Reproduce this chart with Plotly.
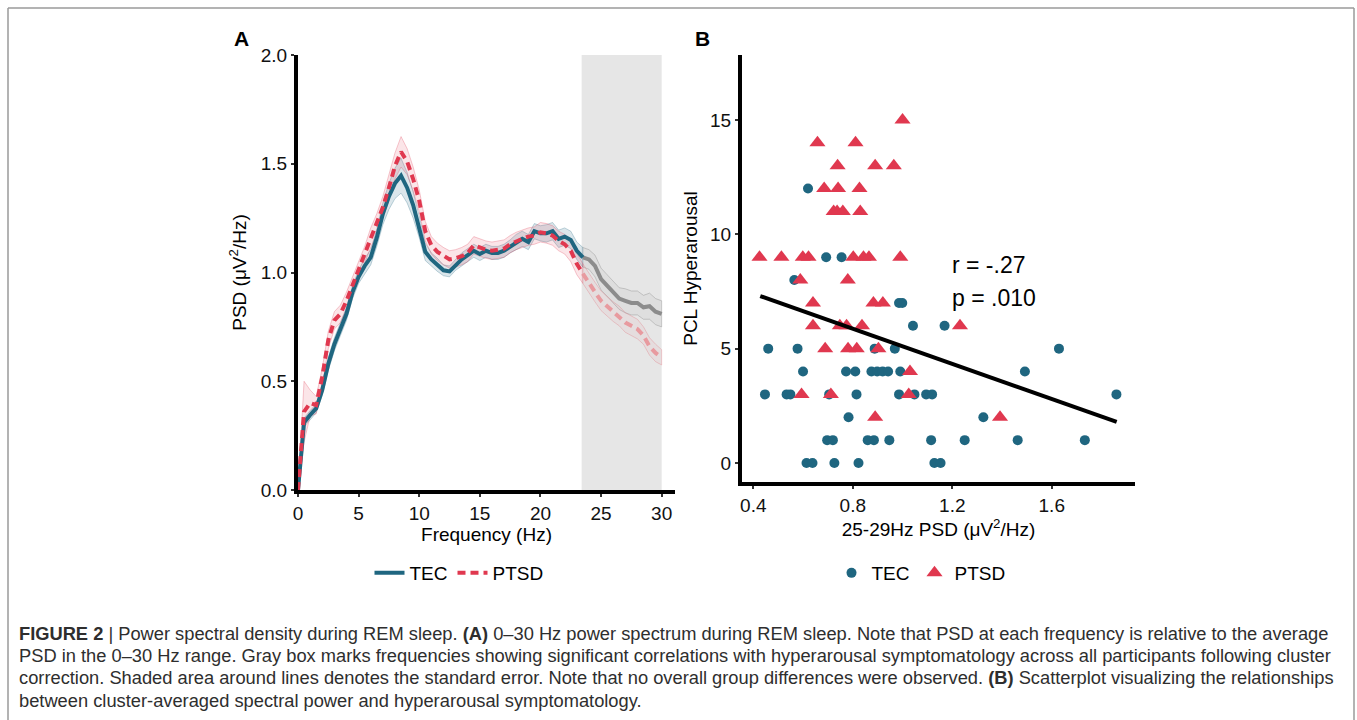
import numpy as np
import plotly.graph_objects as go

W, H = 1357, 720
def px(x): return x / W
def py(y): return 1 - y / H

# ---------------- Panel A data ----------------
freq = [0.0, 0.5, 1.0, 1.5, 2.0, 2.5, 3.0, 3.5, 4.0, 4.5, 5.0, 5.5, 6.0, 6.5, 7.0, 7.5,
        8.0, 8.5, 9.0, 9.5, 10.0, 10.5, 11.0, 11.5, 12.0, 12.5, 13.0, 13.5, 14.0, 14.5,
        15.0, 15.5, 16.0, 16.5, 17.0, 17.5, 18.0, 18.5, 19.0, 19.5, 20.0, 20.5, 21.0,
        21.5, 22.0, 22.5, 23.0, 23.5, 24.0, 24.5, 25.0, 25.5, 26.0, 26.5, 27.0, 27.5,
        28.0, 28.5, 29.0, 29.5, 30.0]
tec_psd = [0.00, 0.31, 0.345, 0.375, 0.46, 0.58, 0.67, 0.74, 0.81, 0.91, 0.98, 1.03, 1.07,
           1.16, 1.27, 1.35, 1.41, 1.445, 1.39, 1.31, 1.21, 1.095, 1.06, 1.035, 1.01, 1.005,
           1.035, 1.06, 1.08, 1.10, 1.085, 1.10, 1.09, 1.09, 1.10, 1.12, 1.14, 1.155, 1.14,
           1.19, 1.18, 1.18, 1.19, 1.155, 1.165, 1.15, 1.10, 1.07, 1.06, 1.03, 0.97, 0.94,
           0.91, 0.88, 0.87, 0.86, 0.86, 0.84, 0.845, 0.82, 0.81]
tec_se = [0.00, 0.02, 0.02, 0.02, 0.025, 0.03, 0.03, 0.03, 0.03, 0.03, 0.03, 0.035, 0.035,
          0.04, 0.05, 0.06, 0.07, 0.08, 0.07, 0.06, 0.05, 0.04, 0.03, 0.03, 0.025, 0.025,
          0.025, 0.03, 0.03, 0.03, 0.03, 0.03, 0.03, 0.03, 0.03, 0.03, 0.035, 0.035, 0.035,
          0.035, 0.035, 0.04, 0.04, 0.04, 0.04, 0.04, 0.04, 0.045, 0.045, 0.05, 0.05, 0.05,
          0.05, 0.05, 0.055, 0.055, 0.055, 0.055, 0.06, 0.06, 0.06]
ptsd_psd = [0.00, 0.36, 0.40, 0.39, 0.52, 0.69, 0.78, 0.81, 0.87, 0.94, 1.01, 1.08, 1.16,
            1.22, 1.30, 1.39, 1.49, 1.555, 1.51, 1.43, 1.33, 1.19, 1.125, 1.095, 1.075, 1.06,
            1.065, 1.075, 1.09, 1.125, 1.115, 1.105, 1.10, 1.105, 1.11, 1.13, 1.145, 1.155,
            1.165, 1.17, 1.185, 1.18, 1.17, 1.145, 1.13, 1.10, 1.04, 0.995, 0.95, 0.91, 0.87,
            0.845, 0.82, 0.80, 0.77, 0.755, 0.74, 0.71, 0.66, 0.63, 0.61]
ptsd_se = [0.00, 0.14, 0.06, 0.04, 0.04, 0.04, 0.04, 0.04, 0.04, 0.04, 0.04, 0.04, 0.045,
           0.05, 0.05, 0.06, 0.06, 0.07, 0.06, 0.055, 0.05, 0.045, 0.04, 0.04, 0.04, 0.04,
           0.04, 0.04, 0.04, 0.04, 0.04, 0.04, 0.04, 0.04, 0.04, 0.04, 0.04, 0.04, 0.04, 0.04,
           0.045, 0.045, 0.045, 0.045, 0.045, 0.05, 0.05, 0.045, 0.045, 0.045, 0.045, 0.045,
           0.045, 0.045, 0.045, 0.045, 0.045, 0.04, 0.04, 0.04, 0.035]
sig_cluster = [23.4, 30.0]     # gray box (Hz)
split_freq = 23.5               # start of gray-coloured segment

# ---------------- Panel B data ----------------
tec_x = [0.62, 0.693, 0.755, 0.565, 0.986, 0.999, 1.042, 1.169,
         0.46, 0.578, 0.888, 0.969, 1.629,
         0.60, 0.773, 0.81, 0.875, 0.898, 0.92, 0.942, 0.991, 1.492,
         0.447, 0.534, 0.549, 0.705, 0.815, 0.986, 1.048, 1.095, 1.119, 1.86,
         0.783, 1.325,
         0.697, 0.72, 0.86, 0.885, 0.947, 1.115, 1.25, 1.463, 1.733,
         0.614, 0.638, 0.726, 0.823, 1.128, 1.153]
tec_y = [12, 9, 9, 8, 7, 7, 6, 6,
         5, 5, 5, 5, 5,
         4, 4, 4, 4, 4, 4, 4, 4, 4,
         3, 3, 3, 3, 3, 3, 3, 3, 3, 3,
         2, 2,
         1, 1, 1, 1, 1, 1, 1, 1, 1,
         0, 0, 0, 0, 0, 0]
ptsd_x = [1.0, 0.658, 0.811, 0.739, 0.89, 0.965, 0.685, 0.741, 0.827,
          0.723, 0.737, 0.76, 0.83,
          0.425, 0.513, 0.599, 0.622, 0.802, 0.843, 0.865, 0.991,
          0.589, 0.78, 0.64, 0.883, 0.921,
          0.64, 0.748, 0.775, 0.837, 1.231,
          0.689, 0.781, 0.816, 0.903, 1.03, 0.594, 0.712, 1.025, 0.89, 1.392]
ptsd_y = [15, 14, 14, 13, 13, 13, 12, 12, 12,
          11, 11, 11, 11,
          9, 9, 9, 9, 9, 9, 9, 9,
          8, 8, 7, 7, 7,
          6, 6, 6, 6, 6,
          5, 5, 5, 5, 4, 3, 3, 3, 2, 2]
fit_x = [0.428, 1.861]          # regression line ends as pictured
fit_y = [7.30, 1.80]
stats_text = ["r = -.27", "p = .010"]

TEC_C = "#1f6680"
PTSD_C = "#e0384f"
FONT = "Liberation Sans, Arial, sans-serif"

fig = go.Figure()

def band(x, m, s):
    up = [a + b for a, b in zip(m, s)]
    lo = [a - b for a, b in zip(m, s)]
    return list(x) + list(x)[::-1], up + lo[::-1]

k = freq.index(split_freq)
seg_c = slice(0, k + 1)
seg_g = slice(k, len(freq))

for f, m, s, fc, lc in [
    (freq[seg_c], tec_psd[seg_c], tec_se[seg_c], "rgba(31,102,128,0.16)", "rgba(31,102,128,0.35)"),
    (freq[seg_c], ptsd_psd[seg_c], ptsd_se[seg_c], "rgba(224,56,79,0.13)", "rgba(224,56,79,0.35)"),
    (freq[seg_g], tec_psd[seg_g], tec_se[seg_g], "rgba(130,130,130,0.07)", "rgba(130,130,130,0.45)"),
    (freq[seg_g], ptsd_psd[seg_g], ptsd_se[seg_g], "rgba(224,56,79,0.05)", "rgba(224,110,120,0.40)"),
]:
    bx, by = band(f, m, s)
    fig.add_trace(go.Scatter(x=bx, y=by, fill="toself", fillcolor=fc,
                             line=dict(color=lc, width=0.8), mode="lines",
                             showlegend=False, hoverinfo="skip", xaxis="x", yaxis="y"))

fig.add_trace(go.Scatter(x=freq[seg_g], y=tec_psd[seg_g], mode="lines",
                         line=dict(color="#8c8c8c", width=4), showlegend=False,
                         xaxis="x", yaxis="y"))
fig.add_trace(go.Scatter(x=freq[seg_g], y=ptsd_psd[seg_g], mode="lines",
                         line=dict(color="#e89a9f", width=4, dash="8px,5px"), showlegend=False,
                         xaxis="x", yaxis="y"))
fig.add_trace(go.Scatter(x=freq[seg_c], y=tec_psd[seg_c], mode="lines", name="TEC",
                         line=dict(color=TEC_C, width=4), legend="legend",
                         xaxis="x", yaxis="y"))
fig.add_trace(go.Scatter(x=freq[seg_c], y=ptsd_psd[seg_c], mode="lines", name="PTSD",
                         line=dict(color=PTSD_C, width=4, dash="8px,5px"), legend="legend",
                         xaxis="x", yaxis="y"))

# Panel B
fig.add_trace(go.Scatter(x=tec_x, y=tec_y, mode="markers", name="TEC",
                         marker=dict(symbol="circle", size=10, color=TEC_C),
                         legend="legend2", xaxis="x2", yaxis="y2"))
fig.add_trace(go.Scatter(x=ptsd_x, y=ptsd_y, mode="markers", name="PTSD",
                         marker=dict(symbol="triangle-up", size=14, color=PTSD_C),
                         legend="legend2", xaxis="x2", yaxis="y2"))
fig.add_trace(go.Scatter(x=fit_x, y=fit_y, mode="lines",
                         line=dict(color="black", width=4), showlegend=False,
                         xaxis="x2", yaxis="y2"))

axis_common = dict(showline=True, linewidth=4, linecolor="black", ticks="outside",
                   ticklen=3, tickwidth=1.5, tickcolor="#333333", showgrid=False,
                   zeroline=False, automargin=False,
                   tickfont=dict(size=19, color="#111111", family=FONT),
                   title_font=dict(size=19, color="#000000", family=FONT))

fig.update_layout(
    width=W, height=H, margin=dict(l=0, r=0, t=0, b=0, autoexpand=False),
    paper_bgcolor="white", plot_bgcolor="white",
    font=dict(family=FONT, color="#000000"),
    xaxis=dict(domain=[px(298), px(675)], range=[0, 31.1], anchor="y",
               tickvals=[0, 5, 10, 15, 20, 25, 30],
               title=dict(text="Frequency (Hz)", standoff=1), **axis_common),
    yaxis=dict(domain=[py(490), py(55)], range=[0, 2], anchor="x",
               tickvals=[0, 0.5, 1.0, 1.5, 2.0], ticktext=["0.0", "0.5", "1.0", "1.5", "2.0"],
               title=dict(text="PSD (μV<sup>2</sup>/Hz)", standoff=10), **axis_common),
    xaxis2=dict(domain=[px(742), px(1135)], range=[0.3546, 1.9347], anchor="y2",
                tickvals=[0.4, 0.8, 1.2, 1.6], ticktext=["0.4", "0.8", "1.2", "1.6"],
                title=dict(text="25-29Hz PSD (μV<sup>2</sup>/Hz)", standoff=1), **axis_common),
    yaxis2=dict(domain=[py(482), py(55)], range=[-0.83, 17.84], anchor="x2",
                tickvals=[0, 5, 10, 15],
                title=dict(text="PCL Hyperarousal", standoff=8), **axis_common),
    legend=dict(orientation="h", x=px(459), y=py(573), xanchor="center", yanchor="middle",
                font=dict(size=19, family=FONT), bgcolor="rgba(0,0,0,0)", itemwidth=30),
    legend2=dict(orientation="h", x=px(921), y=py(573), xanchor="center", yanchor="middle",
                 font=dict(size=19, family=FONT), bgcolor="rgba(0,0,0,0)", itemwidth=30),
    showlegend=True,
)

fig.add_shape(type="rect", xref="x", yref="y", x0=sig_cluster[0], x1=sig_cluster[1],
              y0=0, y1=2, fillcolor="#e6e6e6", line=dict(width=0), layer="below")

# figure frame
for (x0, y0, x1, y1) in [(8, 8, 1354, 8), (8, 8, 8, 720), (1354, 8, 1354, 720)]:
    fig.add_shape(type="line", xref="paper", yref="paper", x0=px(x0), y0=py(y0),
                  x1=px(x1), y1=py(y1), line=dict(color="#9a9a9a", width=1.5))

fig.add_annotation(text="<b>A</b>", xref="paper", yref="paper", x=px(241), y=py(38),
                   xanchor="center", yanchor="middle",
                   showarrow=False, font=dict(size=21, family=FONT, color="black"))
fig.add_annotation(text="<b>B</b>", xref="paper", yref="paper", x=px(702), y=py(38),
                   xanchor="center", yanchor="middle",
                   showarrow=False, font=dict(size=21, family=FONT, color="black"))
fig.add_annotation(text=stats_text[0], xref="x2", yref="y2", x=1.19, y=8.64,
                   xanchor="left", yanchor="middle", showarrow=False,
                   font=dict(size=23, family=FONT, color="black"))
fig.add_annotation(text=stats_text[1], xref="x2", yref="y2", x=1.19, y=7.2,
                   xanchor="left", yanchor="middle", showarrow=False,
                   font=dict(size=23, family=FONT, color="black"))

caption = [
    "<b>FIGURE 2</b> | Power spectral density during REM sleep. <b>(A)</b> 0–30 Hz power spectrum during REM sleep. Note that PSD at each frequency is relative to the average",
    "PSD in the 0–30 Hz range. Gray box marks frequencies showing significant correlations with hyperarousal symptomatology across all participants following cluster",
    "correction. Shaded area around lines denotes the standard error. Note that no overall group differences were observed. <b>(B)</b> Scatterplot visualizing the relationships",
    "between cluster-averaged spectral power and hyperarousal symptomatology.",
]
for line, yy in zip(caption, [633, 655, 677, 700]):
    fig.add_annotation(text=line, xref="paper", yref="paper", x=px(17), y=py(yy),
                       xanchor="left", yanchor="middle", showarrow=False, align="left",
                       font=dict(size=18.3, family=FONT, color="#2e2e2e"))

fig.write_html("out.html", config={"displayModeBar": False},
               post_script="document.body.style.margin='0';document.body.style.overflow='hidden';")
